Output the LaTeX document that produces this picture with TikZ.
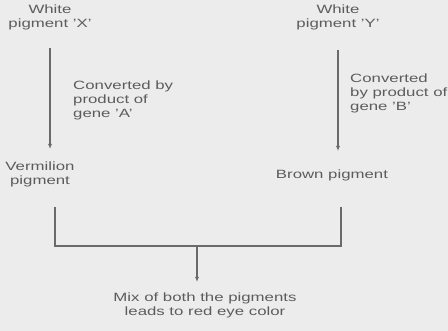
\documentclass[tikz,border=0pt]{standalone}
\usepackage{fontspec}
\setmainfont{Liberation Sans}[FakeStretch=1.4]
\usetikzlibrary{arrows.meta}
\definecolor{bg}{HTML}{ECECEC}
\definecolor{ink}{HTML}{5C5C5C}
\definecolor{ln}{HTML}{6A6A6A}
\tikzset{
  lbl/.style={text=ink, inner sep=0pt, align=center, font={\fontsize{12}{14}\selectfont}},
  lblL/.style={lbl, align=left, anchor=west},
  conn/.style={draw=ln, line width=1.3pt},
  arr/.style={conn, -{Latex[length=5pt,width=4pt]}}
}
\begin{document}
\begin{tikzpicture}[x=1pt,y=-1pt]
\fill[bg] (0,0) rectangle (448,331);
\useasboundingbox (0,0) rectangle (448,331);
\node[lbl] (wx) at (50,17) {White\\pigment 'X'};
\node[lblL] (ca) at (73,100) {Converted by\\product of\\gene 'A'};
\node[lbl] (vp) at (40,174) {Vermilion\\pigment};
\node[lbl] (wy) at (338,17) {White\\pigment 'Y'};
\node[lblL] (cb) at (350,93) {Converted\\by product of\\gene 'B'};
\node[lbl] (bp) at (332,175) {Brown pigment};
\node[lbl] (mix) at (205,305) {Mix of both the pigments\\leads to red eye color};
\coordinate (ta) at (50,48);
\coordinate (ha) at (50,149);
\coordinate (tb) at (338,50);
\coordinate (hb) at (338,151);
\draw[arr] (ta) -- (ha);
\draw[arr] (tb) -- (hb);
\coordinate (vl) at (55,207);
\coordinate (bl) at (55,246);
\coordinate (br) at (341,246);
\coordinate (vr) at (341,207);
\draw[conn] (vl) -- (bl) -- (br) -- (vr);
\coordinate (j) at (197,246);
\coordinate (jh) at (197,282);
\draw[arr] (j) -- (jh);
\end{tikzpicture}
\end{document}
